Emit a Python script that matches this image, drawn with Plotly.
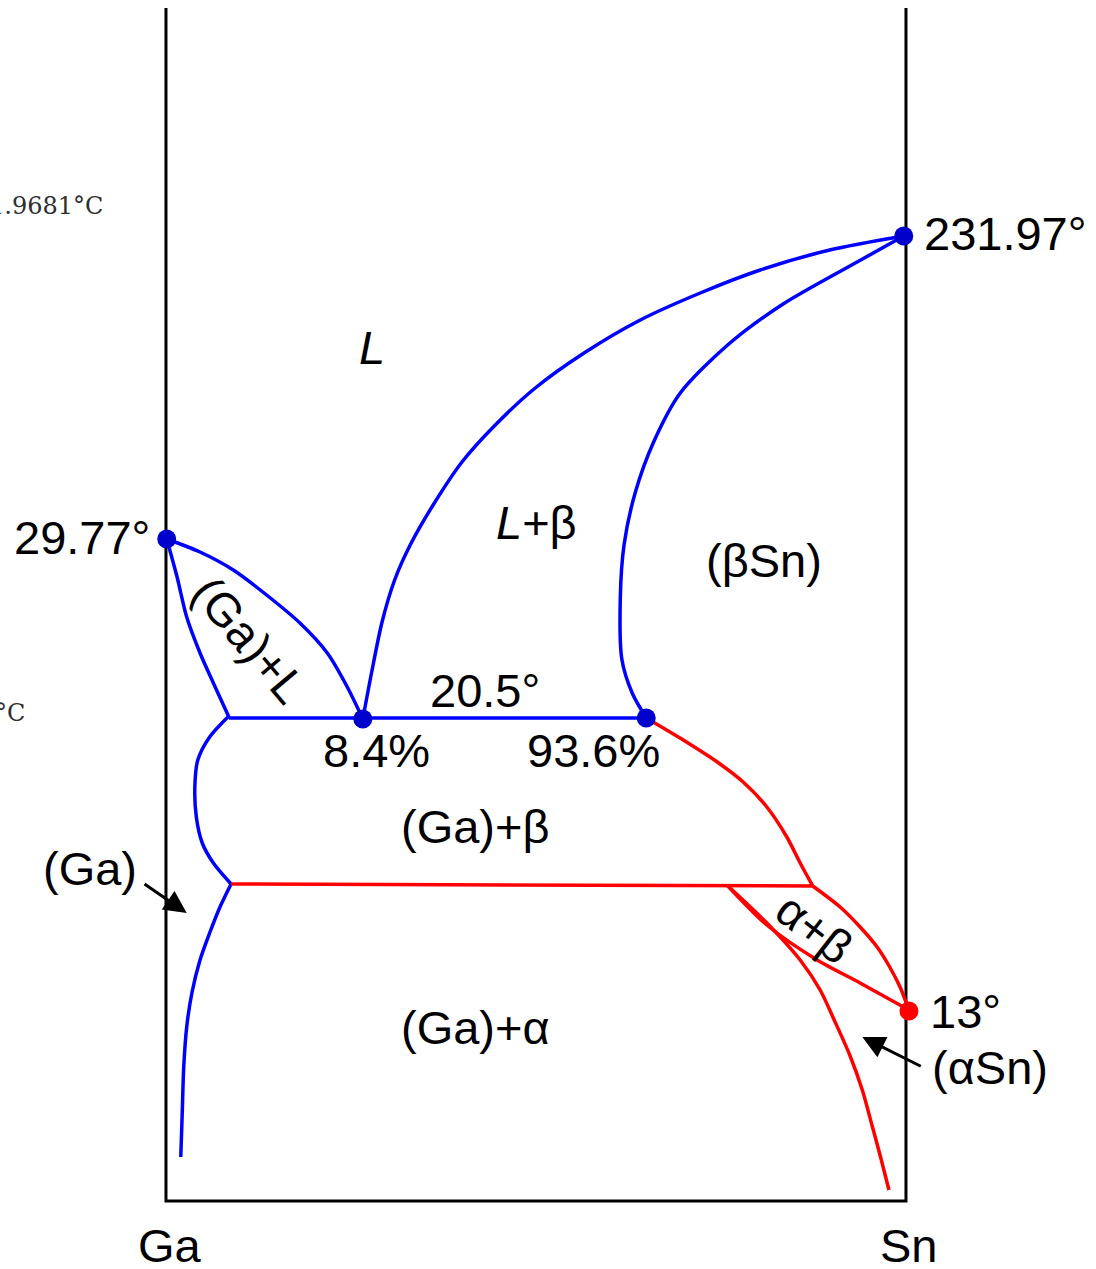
import plotly.graph_objects as go

# Schematic Ga–Sn phase diagram.
# x: composition (0 = Ga, 100 = Sn), y: schematic vertical level (top = 0, larger = lower temperature)

frame_x = [0, 0, 100, 100]
frame_y = [8, 1201, 1201, 8]

ga_liquidus_x = [0.1, 4.6, 9.1, 13.6, 18.1, 21.8, 24.5, 26.6]
ga_liquidus_y = [539, 552, 570, 595, 623, 653, 687, 719]

ga_solidus_x = [0.1, 1.5, 2.8, 4.6, 6.4, 8.5]
ga_solidus_y = [539, 577, 617, 653, 683, 717]

eutectic_x = [8.5, 64.9]
eutectic_y = [718, 718]

sn_liquidus_x = [26.6, 27.8, 29.2, 30.9, 33.0, 36.1, 40.0, 44.5, 49.9, 56.5, 64.1, 72.2, 80.3, 89.7, 99.7]
sn_liquidus_y = [719, 672, 622, 580, 545, 505, 462, 425, 388, 353, 320, 293, 270, 250, 236]

sn_solidus_x = [99.7, 93.4, 83.4, 75.9, 69.5, 65.9, 63.4, 61.9, 61.4, 61.6, 63.0, 64.9]
sn_solidus_y = [236, 262, 304, 345, 393, 442, 493, 545, 597, 659, 693, 718]

ga_upper_x = [8.5, 5.9, 4.3, 3.9, 4.1, 4.9, 6.4, 8.8]
ga_upper_y = [716, 737, 760, 787, 817, 843, 863, 884]

ga_solvus_x = [8.8, 7.3, 5.9, 4.6, 3.5, 2.8, 2.4, 2.2, 2.0]
ga_solvus_y = [884, 907, 933, 960, 993, 1027, 1067, 1112, 1157]

beta_solvus_x = [64.9, 69.9, 74.5, 78.0, 81.2, 83.9, 85.7, 87.4]
beta_solvus_y = [718, 740, 762, 782, 807, 837, 863, 886]

eutectoid_x = [8.8, 87.4]
eutectoid_y = [884, 886]

ab_upper_x = [87.4, 91.1, 93.8, 96.1, 97.8, 99.2, 100.4]
ab_upper_y = [886, 907, 927, 947, 967, 987, 1010]

ab_lower_x = [75.8, 81.2, 88.0, 93.8, 100.4]
ab_lower_y = [885, 925, 960, 983, 1010]

asn_solvus_x = [75.8, 81.2, 85.7, 88.4, 90.3, 92.4, 94.1, 95.4, 96.6, 97.7]
asn_solvus_y = [885, 923, 960, 990, 1020, 1055, 1090, 1125, 1158, 1190]

blue_pts_x = [0.1, 99.7, 26.6, 64.9]
blue_pts_y = [539, 236, 719, 718]
red_pts_x = [100.4]
red_pts_y = [1011]

labels = ["<i>L</i>", "<i>L</i>+β", "(βSn)", "20.5°", "8.4%", "93.6%", "(Ga)+β", "(Ga)+α",
          "(Ga)", "13°", "(αSn)", "29.77°", "231.97°", "Ga", "Sn"]
labels_x = [27.8, 50.1, 80.8, 43.1, 28.4, 57.8, 41.8, 41.8, -10.3, 108.0, 111.4, -11.4, 113.5, 0.5, 100.4]
labels_y = [347, 522, 560, 690, 750, 750, 826, 1027, 868, 1011, 1067, 537, 233, 1245, 1245]

rot_labels = ["(Ga)+L", "α+β"]
rot_x = [11.4, 87.7]
rot_y = [640, 928]
rot_angle = [50, 38]

grey_labels = ["1.9681°C", "°C"]
grey_x = [-8.2, -18.8]
grey_y = [206, 713]

arrows_tip_x = [2.8, 94.1]
arrows_tip_y = [913, 1037]
arrows_tail_x = [-3.1, 102.2]
arrows_tail_y = [883, 1067]

BLUE = "#0000FF"
RED = "#FF0000"
FONT = "Liberation Sans, Arial, sans-serif"
FS = 47

fig = go.Figure()

def line(x, y, color, width=3.5, shape="spline"):
    fig.add_trace(go.Scatter(x=x, y=y, mode="lines",
                             line=dict(color=color, width=width, shape=shape, smoothing=0.8),
                             hoverinfo="skip", showlegend=False))

line(frame_x, frame_y, "black", width=3, shape="linear")
line(ga_liquidus_x, ga_liquidus_y, BLUE)
line(ga_solidus_x, ga_solidus_y, BLUE)
line(eutectic_x, eutectic_y, BLUE, shape="linear")
line(sn_liquidus_x, sn_liquidus_y, BLUE)
line(sn_solidus_x, sn_solidus_y, BLUE)
line(ga_upper_x, ga_upper_y, BLUE)
line(ga_solvus_x, ga_solvus_y, BLUE)
line(beta_solvus_x, beta_solvus_y, RED)
line(eutectoid_x, eutectoid_y, RED, shape="linear")
line(ab_upper_x, ab_upper_y, RED)
line(ab_lower_x, ab_lower_y, RED)
line(asn_solvus_x, asn_solvus_y, RED)

fig.add_trace(go.Scatter(x=blue_pts_x, y=blue_pts_y, mode="markers",
                         marker=dict(color="#0000CC", size=19), hoverinfo="skip", showlegend=False))
fig.add_trace(go.Scatter(x=red_pts_x, y=red_pts_y, mode="markers",
                         marker=dict(color=RED, size=19), hoverinfo="skip", showlegend=False))

for t, x, y in zip(labels, labels_x, labels_y):
    fig.add_annotation(x=x, y=y, text=t, showarrow=False, xanchor="center", yanchor="middle",
                       font=dict(family=FONT, size=FS, color="black"))

for t, x, y, a in zip(rot_labels, rot_x, rot_y, rot_angle):
    fig.add_annotation(x=x, y=y, text=t, showarrow=False, textangle=a, xanchor="center", yanchor="middle",
                       font=dict(family=FONT, size=FS, color="black"))

for t, x, y in zip(grey_labels, grey_x, grey_y):
    fig.add_annotation(x=x, y=y, text=t, showarrow=False, xanchor="right", yanchor="middle",
                       font=dict(family="DejaVu Serif, Liberation Serif, serif", size=24, color="#2e2e2e"))

for tx, ty, sx, sy in zip(arrows_tip_x, arrows_tip_y, arrows_tail_x, arrows_tail_y):
    fig.add_annotation(x=tx, y=ty, ax=sx, ay=sy, axref="x", ayref="y", xref="x", yref="y",
                       text="", showarrow=True, arrowhead=2, arrowsize=1.5, arrowwidth=3, arrowcolor="black")

fig.update_layout(
    width=1096, height=1269,
    margin=dict(l=0, r=0, t=0, b=0),
    paper_bgcolor="white", plot_bgcolor="white",
    xaxis=dict(range=[-22.43, 125.68], visible=False, fixedrange=True),
    yaxis=dict(range=[1269, 0], visible=False, fixedrange=True),
    showlegend=False,
)

# remove the default 8 px page margin so the figure fills the window exactly
fig.write_html("out.html", config={"displayModeBar": False},
               post_script="document.body.style.margin='0';document.body.style.overflow='hidden';")
